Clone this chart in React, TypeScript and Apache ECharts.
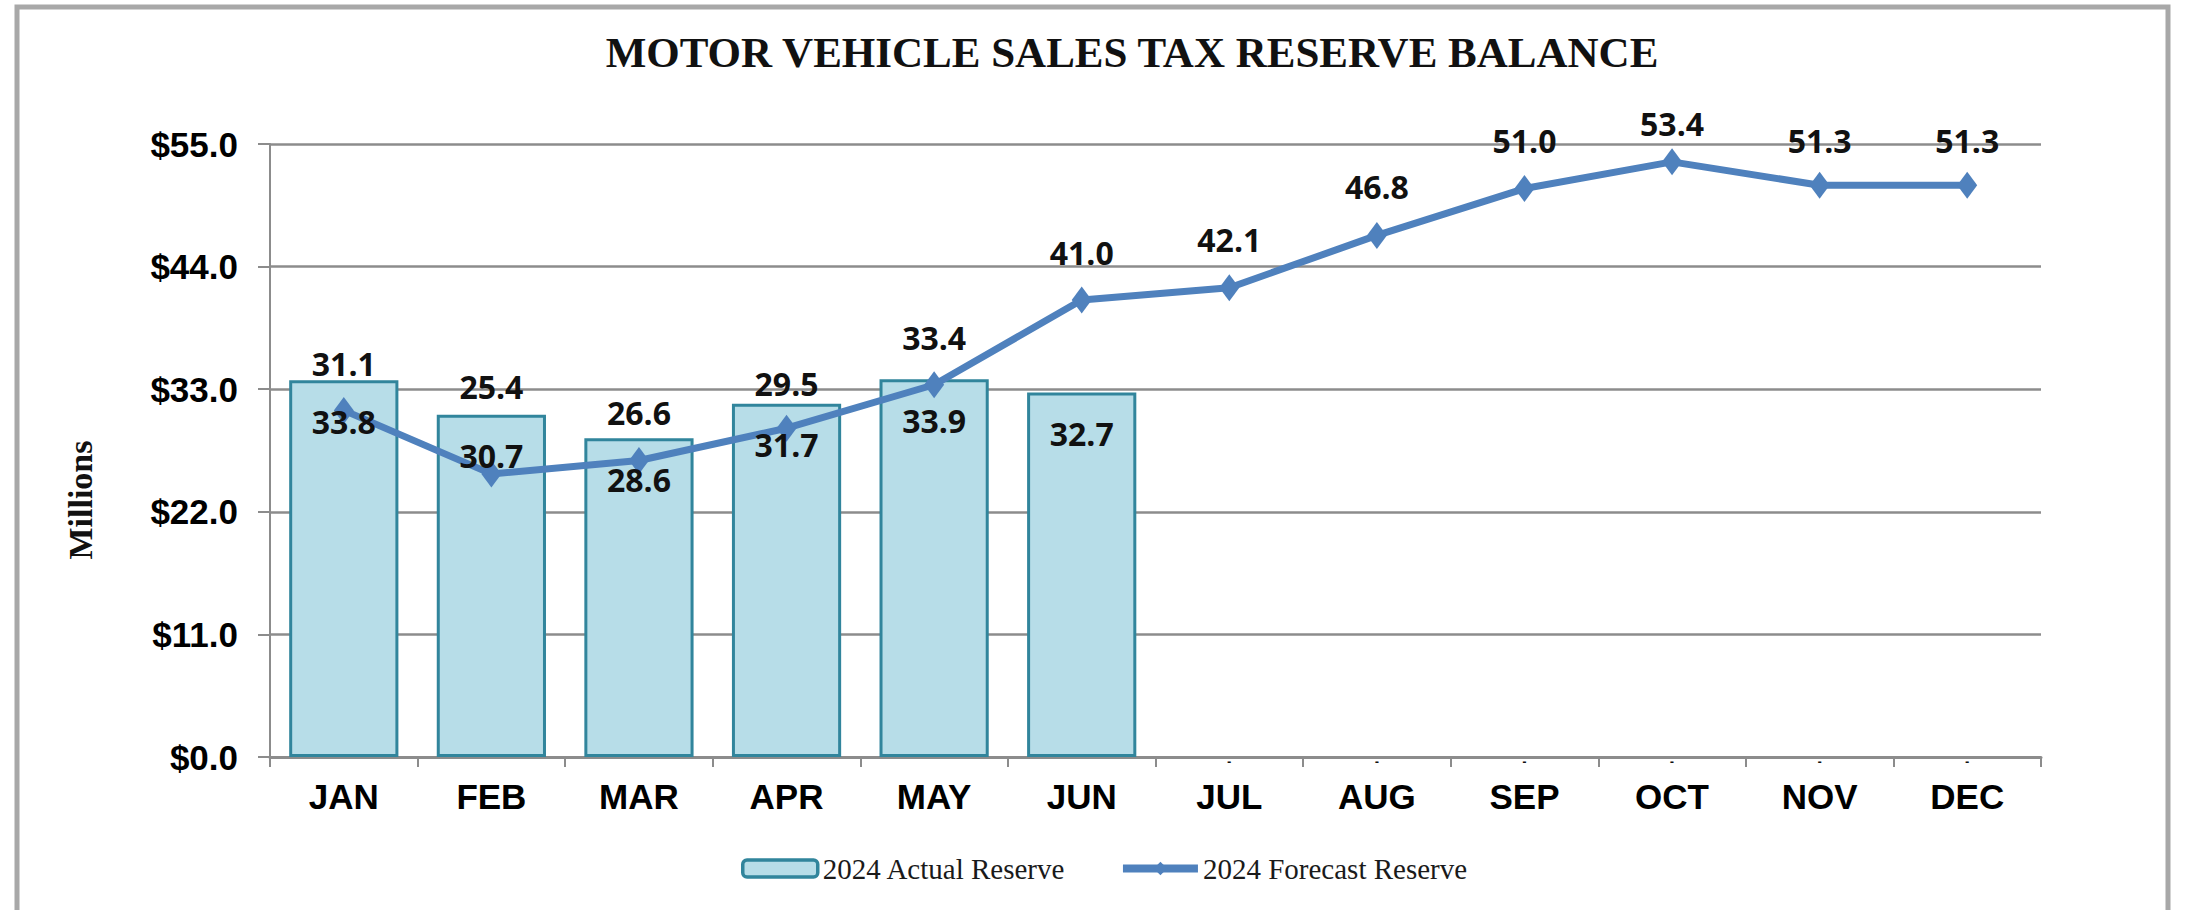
import React, { useEffect, useRef } from "react";
import * as echarts from "echarts";

const months = ["JAN", "FEB", "MAR", "APR", "MAY", "JUN", "JUL", "AUG", "SEP", "OCT", "NOV", "DEC"];
const actualReserve = [33.8, 30.7, 28.6, 31.7, 33.9, 32.7, 0, 0, 0, 0, 0, 0];
const forecastReserve = [31.1, 25.4, 26.6, 29.5, 33.4, 41.0, 42.1, 46.8, 51.0, 53.4, 51.3, 51.3];
const yMin = 0;
const yMax = 55;
const yStep = 11;
const titleText = "MOTOR VEHICLE SALES TAX RESERVE BALANCE";
const yAxisTitle = "Millions";
const actualName = "2024 Actual Reserve";
const forecastName = "2024 Forecast Reserve";
// label lift (px above the point) for the forecast labels, as placed in the reference
const forecastLabelLift = [47, 87, 48, 45, 47, 48, 48, 49, 48, 38, 45, 45];

export default function App() {
  const ref = useRef<HTMLDivElement>(null);
  useEffect(() => {
    if (!ref.current) return;
    const chart = echarts.init(ref.current, null, { renderer: "svg" });
    const labelFont = {
      fontFamily: "Open Sans",
      fontWeight: "bold" as const,
      fontSize: 32,
      color: "#111",
    };
    const barData = actualReserve.map((v) =>
      v === 0 ? { value: 0, itemStyle: { borderWidth: 0 } } : v
    );
    const barLabelData = actualReserve.map((v) =>
      v === 0
        ? {
            value: 0,
            label: { formatter: "-", fontSize: 12, distance: -2 },
          }
        : v
    );
    const lineData = forecastReserve.map((v, i) => ({
      value: v,
      label: { offset: [0, -forecastLabelLift[i]] },
    }));
    chart.setOption({
      animation: false,
      backgroundColor: "#ffffff",
      grid: { left: 270, right: 147, top: 144, bottom: 153, containLabel: false },
      legend: {
        data: [
          {
            name: actualName,
            itemStyle: { color: "#B7DDE8", borderColor: "#31859C", borderWidth: 3.5 },
          },
          {
            name: forecastName,
            lineStyle: { color: "#4F81BD", width: 8 },
            itemStyle: { color: "#4F81BD" },
          },
        ],
        left: 736,
        top: 849,
        itemWidth: 75,
        itemHeight: 17,
        itemGap: 53,
        textStyle: { fontFamily: "Liberation Serif", fontSize: 29, color: "#1a1a1a" },
      },
      graphic: [
        {
          type: "rect",
          z: -10,
          shape: { x: 17, y: 7, width: 2151, height: 1000 },
          style: { fill: "none", stroke: "#A8A8A8", lineWidth: 5 },
        },
        {
          type: "text",
          x: 1132,
          y: 52,
          style: {
            text: titleText,
            fontFamily: "Liberation Serif",
            fontWeight: "bold",
            fontSize: 43,
            fill: "#111",
            align: "center",
            verticalAlign: "middle",
          },
        },
        {
          type: "text",
          x: 80,
          y: 500,
          rotation: Math.PI / 2,
          style: {
            text: yAxisTitle,
            fontFamily: "Liberation Serif",
            fontWeight: "bold",
            fontSize: 34,
            fill: "#111",
            align: "center",
            verticalAlign: "middle",
          },
        },
      ],
      xAxis: {
        type: "category",
        data: months,
        boundaryGap: true,
        axisLine: { show: true, lineStyle: { color: "#8C8C8C", width: 3 } },
        axisTick: { show: true, alignWithLabel: false, length: 10, lineStyle: { color: "#8C8C8C", width: 2 } },
        axisLabel: {
          margin: 22,
          fontFamily: "Liberation Sans",
          fontWeight: "bold",
          fontSize: 35,
          color: "#000",
        },
        splitLine: { show: false },
      },
      yAxis: {
        type: "value",
        min: yMin,
        max: yMax,
        interval: yStep,
        axisLine: { show: true, lineStyle: { color: "#8C8C8C", width: 2 } },
        axisTick: { show: true, length: 12, lineStyle: { color: "#8C8C8C", width: 2 } },
        axisLabel: {
          margin: 32,
          formatter: (v: number) => "$" + v.toFixed(1),
          fontFamily: "Liberation Sans",
          fontWeight: "bold",
          fontSize: 35,
          color: "#000",
        },
        splitLine: { show: true, lineStyle: { color: "#8C8C8C", width: 2.5 } },
      },
      series: [
        {
          name: actualName,
          type: "bar",
          data: barData,
          barCategoryGap: "26%",
          barGap: "-100%",
          z: 2,
          itemStyle: { color: "#B7DDE8", borderColor: "#31859C", borderWidth: 3 },
          label: { show: false },
        },
        {
          name: forecastName,
          type: "line",
          data: lineData,
          z: 3,
          symbol: "diamond",
          symbolSize: [20, 27],
          lineStyle: { color: "#4F81BD", width: 7 },
          itemStyle: { color: "#4F81BD" },
          label: {
            show: true,
            position: "inside",
            formatter: (p: any) => Number(p.value).toFixed(1),
            ...labelFont,
          },
        },
        {
          name: "actual-labels",
          type: "bar",
          data: barLabelData,
          barCategoryGap: "26%",
          barGap: "-100%",
          z: 5,
          silent: true,
          itemStyle: { color: "rgba(0,0,0,0)", borderWidth: 0 },
          label: {
            show: true,
            position: "insideTop",
            distance: 25,
            formatter: (p: any) => Number(p.value).toFixed(1),
            ...labelFont,
          },
        },
      ],
    });
    return () => chart.dispose();
  }, []);
  return (
    <div
      ref={ref}
      style={{ position: "fixed", left: 0, top: 0, width: 2188, height: 910, background: "#fff" }}
    />
  );
}
